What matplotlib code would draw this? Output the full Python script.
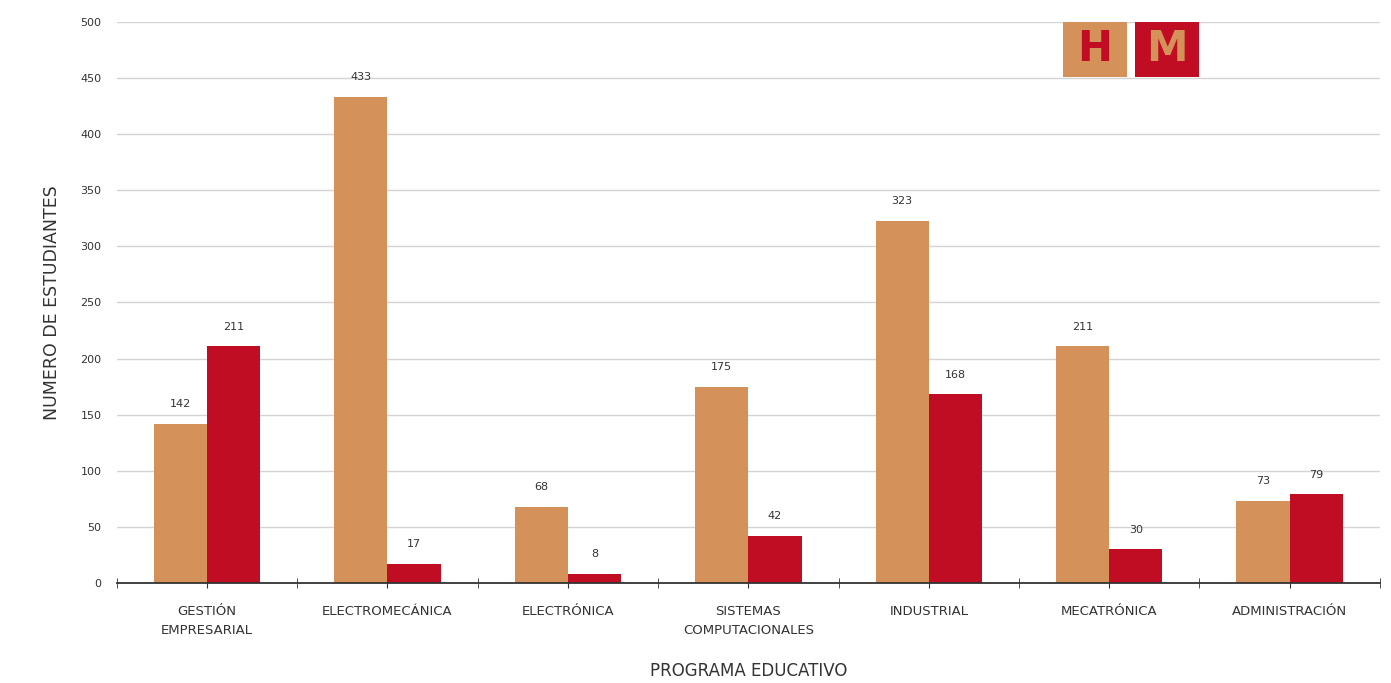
import numpy as np
import matplotlib.pyplot as plt
from matplotlib.patches import Rectangle

programas = ["GESTIÓN\nEMPRESARIAL", "ELECTROMECÁNICA", "ELECTRÓNICA",
             "SISTEMAS\nCOMPUTACIONALES", "INDUSTRIAL", "MECATRÓNICA", "ADMINISTRACIÓN"]
hombres = [142, 433, 68, 175, 323, 211, 73]
mujeres = [211, 17, 8, 42, 168, 30, 79]

naranja = "#D4915A"
rojo = "#C00D23"

plt.rcParams['font.family'] = ['DejaVu Sans']

fig = plt.figure(figsize=(13.91, 6.83), dpi=100)
ax = fig.add_axes([0.084, 0.1464, 0.908, 0.8216])

x = np.arange(len(programas))
w = 0.295
b1 = ax.bar(x - w/2, hombres, w, color=naranja)
b2 = ax.bar(x + w/2, mujeres, w, color=rojo)

for bars in (b1, b2):
    for r in bars:
        ax.text(r.get_x() + r.get_width()/2, r.get_height() + 13, str(int(r.get_height())),
                ha='center', va='bottom', fontsize=8, color='#333333')

ax.set_ylim(0, 500)
ax.set_xlim(-0.5, len(programas) - 0.5)
ax.set_yticks(range(0, 501, 50))
ax.yaxis.grid(True, color='#d4d4d4', linewidth=1)
ax.set_axisbelow(True)
ax.tick_params(axis='y', length=0, labelsize=8, labelcolor='#333333', pad=11)

ax.set_xticks(x)
ax.set_xticks(np.arange(-0.5, len(programas), 1), minor=True)
ax.set_xticklabels(programas, fontsize=9.5, color='#333333', linespacing=1.6)
ax.tick_params(axis='x', which='both', direction='inout', length=7, color='#333333', pad=12)

for s in ['top', 'right', 'left']:
    ax.spines[s].set_visible(False)
ax.spines['bottom'].set_color('#333333')
ax.spines['bottom'].set_linewidth(1.3)

ax.set_ylabel("NUMERO DE ESTUDIANTES", fontsize=12.5, color='#333333', labelpad=14)
ax.set_xlabel("PROGRAMA EDUCATIVO", fontsize=12, color='#333333', labelpad=18)

# leyenda H / M
for x0, fc, tc, letra in [(0.749, naranja, rojo, "H"), (0.806, rojo, naranja, "M")]:
    ax.add_patch(Rectangle((x0, 0.902), 0.0505, 0.098, transform=ax.transAxes,
                           facecolor=fc, edgecolor='none', clip_on=False, zorder=5))
    ax.text(x0 + 0.0505/2, 0.951, letra, transform=ax.transAxes, fontsize=30,
            fontweight='bold', color=tc, ha='center', va='center', zorder=6)

fig.savefig("out.png", dpi=100)
